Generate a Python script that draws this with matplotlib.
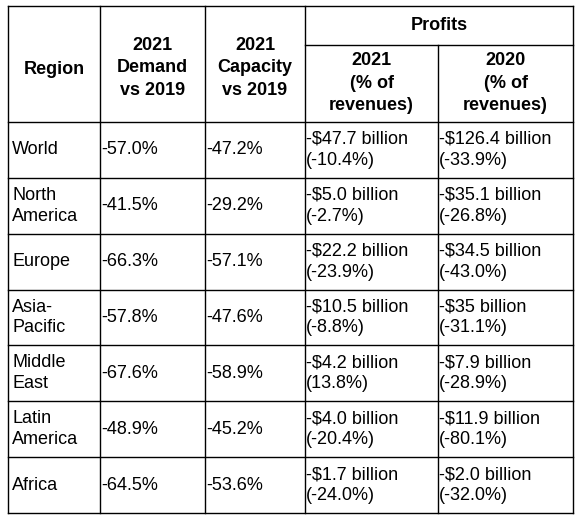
import matplotlib.pyplot as plt

regions = ["World", "North\nAmerica", "Europe", "Asia-\nPacific", "Middle\nEast", "Latin\nAmerica", "Africa"]
demand = ["-57.0%", "-41.5%", "-66.3%", "-57.8%", "-67.6%", "-48.9%", "-64.5%"]
capacity = ["-47.2%", "-29.2%", "-57.1%", "-47.6%", "-58.9%", "-45.2%", "-53.6%"]
profit_2021 = ["-$47.7 billion\n(-10.4%)", "-$5.0 billion\n(-2.7%)", "-$22.2 billion\n(-23.9%)",
               "-$10.5 billion\n(-8.8%)", "-$4.2 billion\n(13.8%)", "-$4.0 billion\n(-20.4%)",
               "-$1.7 billion\n(-24.0%)"]
profit_2020 = ["-$126.4 billion\n(-33.9%)", "-$35.1 billion\n(-26.8%)", "-$34.5 billion\n(-43.0%)",
               "-$35 billion\n(-31.1%)", "-$7.9 billion\n(-28.9%)", "-$11.9 billion\n(-80.1%)",
               "-$2.0 billion\n(-32.0%)"]
headers = ["Region", "2021\nDemand\nvs 2019", "2021\nCapacity\nvs 2019", "2021\n(% of\nrevenues)", "2020\n(% of\nrevenues)"]

plt.rcParams['font.family'] = ['Liberation Sans', 'DejaVu Sans']
fig = plt.figure(figsize=(5.8, 5.3), dpi=100)
ax = fig.add_axes([0, 0, 1, 1])
ax.set_xlim(0, 580)
ax.set_ylim(530, 0)
ax.axis("off")

cols = [8, 100, 205, 305, 438, 573]
top, head_bottom, bottom = 6, 122, 513
row_h = (bottom - head_bottom) / len(regions)
lw = 1.0

# grid lines
for x in (8, 100, 205, 305, 573):
    ax.plot([x, x], [top, bottom], color="black", lw=lw)
ax.plot([438, 438], [45, bottom], color="black", lw=lw)
ax.plot([8, 573], [top, top], color="black", lw=lw)
ax.plot([305, 573], [45, 45], color="black", lw=lw)
for i in range(len(regions) + 1):
    y = head_bottom + i * row_h
    ax.plot([8, 573], [y, y], color="black", lw=lw)

fs = 13
ax.text(439, 26, "Profits", ha="center", va="center", fontsize=fs, fontweight="bold")
head_y = [70, 68, 68, 83, 83]
for j, h in enumerate(headers):
    cx = (cols[j] + cols[j + 1]) / 2
    ax.text(cx, head_y[j], h, ha="center", va="center", fontsize=fs,
            fontweight="bold", linespacing=1.45)

for i in range(len(regions)):
    cy = head_bottom + (i + 0.5) * row_h
    vals = [regions[i], demand[i], capacity[i], profit_2021[i], profit_2020[i]]
    for j, v in enumerate(vals):
        ax.text(cols[j] + (4 if j == 0 else 1), cy, v, ha="left", va="center",
                fontsize=fs, linespacing=1.3)

fig.savefig("out.png", dpi=100, facecolor="white")
